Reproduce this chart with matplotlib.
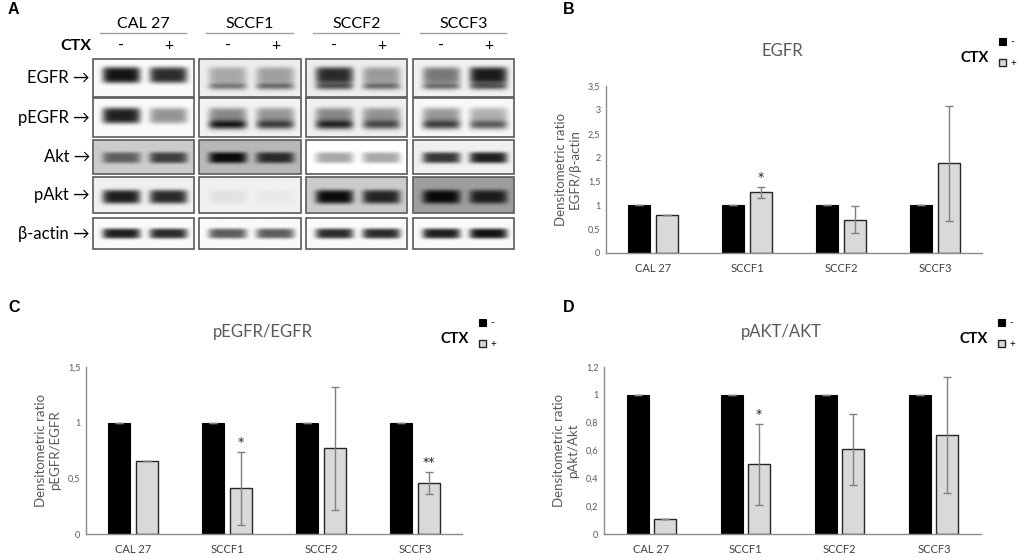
import numpy as np
import matplotlib
matplotlib.use("Agg")
import matplotlib.pyplot as plt
from matplotlib.patches import Rectangle

plt.rcParams['font.family'] = ['Lato', 'DejaVu Sans']

cell_lines = ["CAL 27", "SCCF1", "SCCF2", "SCCF3"]
ctx_lanes = ["-", "+"]
proteins = ["EGFR", "pEGFR", "Akt", "pAkt", "β-actin"]

# western blot band darkness, lanes: CAL27-, CAL27+, SCCF1-, SCCF1+, SCCF2-, SCCF2+, SCCF3-, SCCF3+
egfr_main = [0.95, 0.85, 0.30, 0.34, 0.85, 0.36, 0.52, 0.92]
egfr_lower = [0.0, 0.0, 0.50, 0.55, 0.65, 0.55, 0.55, 0.65]
pegfr_main = [0.90, 0.42, 0.45, 0.40, 0.45, 0.40, 0.40, 0.30]
pegfr_lower = [0.0, 0.0, 0.85, 0.70, 0.80, 0.65, 0.70, 0.60]
akt_main = [0.55, 0.72, 0.98, 0.80, 0.35, 0.35, 0.80, 0.90]
pakt_main = [0.90, 0.85, 0.06, 0.03, 0.98, 0.85, 0.98, 0.85]
actin_main = [0.90, 0.85, 0.65, 0.65, 0.85, 0.85, 0.90, 0.95]
no_band = [0.0] * 8

# blot background grey level per cell line
egfr_bg = [0.98, 0.93, 0.93, 0.95]
pegfr_bg = [0.98, 0.95, 0.94, 0.97]
akt_bg = [0.80, 0.72, 1.00, 0.94]
pakt_bg = [0.94, 0.94, 0.80, 0.62]
actin_bg = [0.98, 0.98, 0.98, 0.98]

# densitometry
ctrl_vals = [1, 1, 1, 1]
ctrl_err = [0, 0, 0, 0]

egfr_ctx = [0.80, 1.27, 0.70, 1.88]
egfr_err = [0.0, 0.12, 0.29, 1.20]
egfr_stars = ["", "*", "", ""]

pegfr_ctx = [0.66, 0.41, 0.77, 0.46]
pegfr_err = [0.0, 0.33, 0.55, 0.10]
pegfr_stars = ["", "*", "", "**"]

pakt_ctx = [0.11, 0.50, 0.61, 0.71]
pakt_err = [0.0, 0.29, 0.255, 0.415]
pakt_stars = ["", "*", "", ""]

fig = plt.figure(figsize=(10.2, 5.58), dpi=100)

# ---------- panel A : blots drawn in a pixel-space overlay ----------
ov = fig.add_axes([0, 0, 1, 1])
ov.set_facecolor('none')

col_x = [(93, 194), (199, 301), (306, 407), (413, 514)]
row_y = [(59, 97), (98, 137), (140, 174), (177, 213), (218, 249)]
lane_frac = [0.28, 0.75]
rows = [
    (egfr_main, egfr_lower, egfr_bg, 0.42, 0.22, 0.72, 0.07),
    (pegfr_main, pegfr_lower, pegfr_bg, 0.45, 0.21, 0.70, 0.08),
    (akt_main, no_band, akt_bg, 0.52, 0.17, 0.7, 0.07),
    (pakt_main, no_band, pakt_bg, 0.55, 0.20, 0.7, 0.07),
    (actin_main, no_band, actin_bg, 0.50, 0.17, 0.7, 0.07),
]


def blot_image(main, lower, bg, my, ms, ly, ls, w=101, h=38):
    X, Y = np.meshgrid(np.linspace(0, 1, w), np.linspace(0, 1, h))
    dark = np.zeros_like(X)
    for k, f in enumerate(lane_frac):
        px = np.exp(-((X - f) / 0.19) ** 6)
        dark += main[k] * px * np.exp(-((Y - my) / ms) ** 4)
        dark += lower[k] * px * np.exp(-0.5 * ((Y - ly) / ls) ** 2)
    dark = np.clip(dark, 0, 1)
    return bg * (1 - 0.97 * dark)


for r, (main, lower, bg, my, ms, ly, ls) in enumerate(rows):
    y0, y1 = row_y[r]
    for c in range(4):
        x0, x1 = col_x[c]
        img = blot_image(main[2 * c:2 * c + 2], lower[2 * c:2 * c + 2], bg[c], my, ms, ly, ls)
        ov.imshow(img, cmap='gray', vmin=0, vmax=1, extent=(x0, x1, y1, y0),
                  aspect='auto', interpolation='bilinear')
        ov.add_patch(Rectangle((x0, y0), x1 - x0, y1 - y0, fill=False,
                               edgecolor='#5a5a5a', lw=1.2))
    ov.text(90, (y0 + y1) / 2, proteins[r] + " →", ha='right', va='center',
            fontsize=12, color='black')

for c in range(4):
    x0, x1 = col_x[c]
    ov.text((x0 + x1) / 2, 24, cell_lines[c], ha='center', va='center', fontsize=11.5)
    ov.plot([x0 + 7, x1 - 8], [33, 33], color='#a0a0a0', lw=1)
    for k, f in enumerate(lane_frac):
        ov.text(x0 + f * (x1 - x0), 46, ctx_lanes[k], ha='center', va='center',
                fontsize=11.5)
ov.text(91, 46, "CTX", ha='right', va='center', fontsize=11.5, fontweight='bold')

for lab, (lx, ly) in zip("ABCD", [(13, 10), (569, 10), (14, 307), (569, 307)]):
    ov.text(lx, ly, lab, ha='center', va='center', fontsize=11.5, fontweight='bold',
            family=['Liberation Sans', 'DejaVu Sans'])

ov.set_xlim(0, 1020)
ov.set_ylim(558, 0)
ov.axis('off')


# ---------- bar panels ----------
def bar_panel(rect, ctx, err, stars, ymax, step, title, ylabel):
    ax = fig.add_axes(rect)
    x = np.arange(len(cell_lines))
    w = 0.234
    h_ctrl = ax.bar(x - 0.144, ctrl_vals, w, color='black', edgecolor='black', lw=0.8,
                    yerr=ctrl_err, error_kw=dict(ecolor='#808080', elinewidth=1,
                                                 capsize=3, capthick=1))
    h_ctx = ax.bar(x + 0.144, ctx, w, color='#d9d9d9', edgecolor='#262626', lw=1,
                   yerr=err, error_kw=dict(ecolor='#808080', elinewidth=1,
                                           capsize=3, capthick=1))
    for i, s in enumerate(stars):
        if s:
            ax.annotate(s, (x[i] + 0.144, ctx[i] + err[i]), xytext=(0, 2),
                        textcoords='offset points', ha='center', va='bottom',
                        fontsize=9, color='#262626', family='DejaVu Sans')
    ax.set_xlim(-0.5, len(cell_lines) - 0.5)
    ax.set_ylim(0, ymax)
    ticks = np.round(np.arange(0, ymax + 1e-9, step), 2)
    ax.set_yticks(ticks)
    ax.set_yticklabels([f"{t:g}".replace('.', ',') for t in ticks])
    ax.set_xticks(x)
    ax.set_xticklabels(cell_lines)
    ax.tick_params(axis='y', length=0, pad=4, labelsize=6.5, labelcolor='#595959')
    ax.tick_params(axis='x', length=0, pad=7, labelsize=8, labelcolor='#404040')
    for sp in ['top', 'right']:
        ax.spines[sp].set_visible(False)
    for sp in ['left', 'bottom']:
        ax.spines[sp].set_color('#8c8c8c')
        ax.spines[sp].set_linewidth(1)
    ax.set_ylabel(ylabel, fontsize=9.5, color='#595959', linespacing=1.2)
    ax.yaxis.set_label_coords(-0.066, 0.5)
    ax.text(0.47, 1.21, title, transform=ax.transAxes, ha='center', va='center',
            fontsize=12, color='#595959')
    ax.text(0.98, 1.17, "CTX", transform=ax.transAxes, ha='center', va='center',
            fontsize=10.5, fontweight='bold')
    ax.legend([h_ctrl, h_ctx], ctx_lanes, loc='upper left', bbox_to_anchor=(1.045, 1.29),
              frameon=False, fontsize=7, handlelength=0.75, handleheight=0.75,
              handletextpad=0.4, labelspacing=1.3, borderpad=0, borderaxespad=0)
    return ax


bar_panel([606 / 1020, 1 - 253 / 558, 376 / 1020, 167 / 558], egfr_ctx, egfr_err,
          egfr_stars, 3.5, 0.5, "EGFR", "Densitometric ratio\nEGFR/β-actin")
bar_panel([86 / 1020, 1 - 534 / 558, 376 / 1020, 167 / 558], pegfr_ctx, pegfr_err,
          pegfr_stars, 1.5, 0.5, "pEGFR/EGFR", "Densitometric ratio\npEGFR/EGFR")
bar_panel([604 / 1020, 1 - 534 / 558, 377 / 1020, 167 / 558], pakt_ctx, pakt_err,
          pakt_stars, 1.2, 0.2, "pAKT/AKT", "Densitometric ratio\npAkt/Akt")

fig.savefig("out.png", dpi=100)
